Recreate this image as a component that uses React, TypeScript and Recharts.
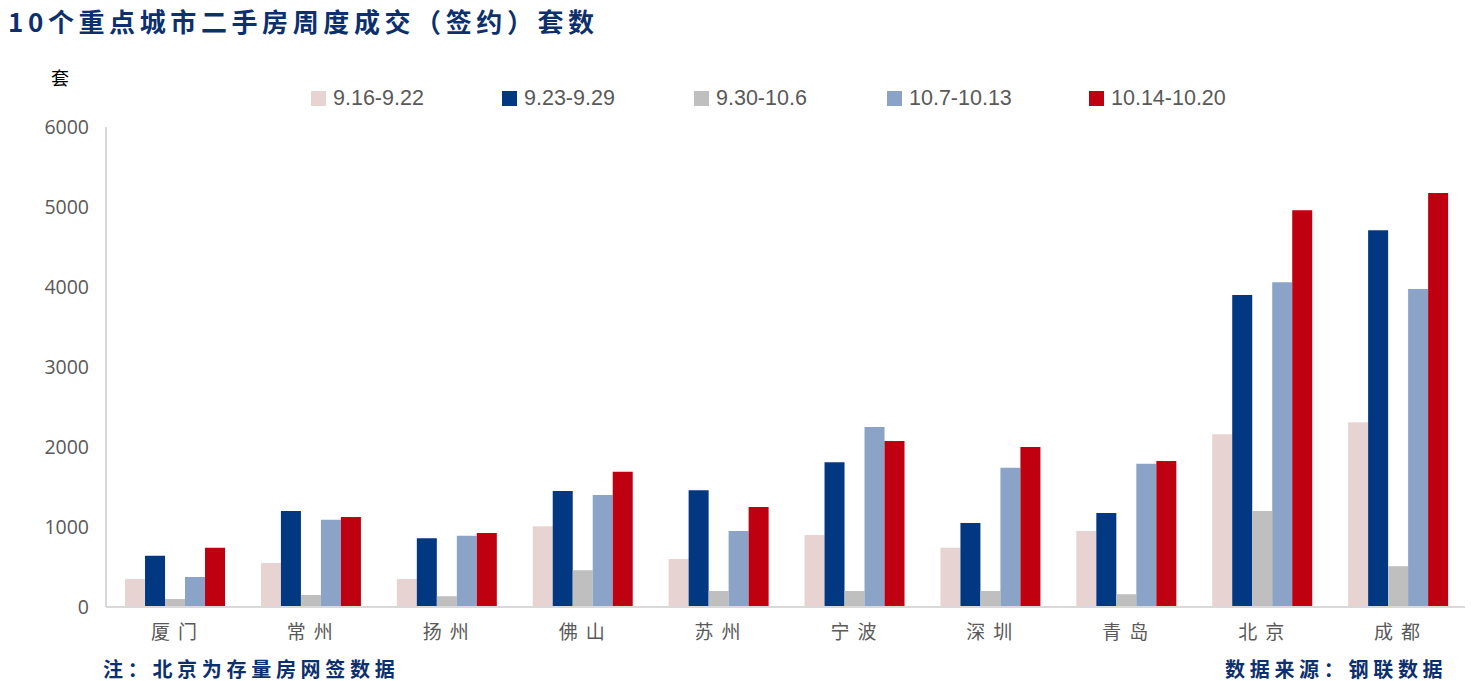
import { BarChart, Bar, XAxis, YAxis } from "recharts";

const cities = ["厦门", "常州", "扬州", "佛山", "苏州", "宁波", "深圳", "青岛", "北京", "成都"];
const weeks = ["9.16-9.22", "9.23-9.29", "9.30-10.6", "10.7-10.13", "10.14-10.20"];
const w1 = [350, 550, 350, 1010, 600, 900, 740, 950, 2160, 2310];
const w2 = [640, 1200, 860, 1450, 1460, 1810, 1050, 1175, 3900, 4710];
const w3 = [100, 150, 135, 460, 200, 200, 200, 160, 1200, 510];
const w4 = [375, 1090, 890, 1400, 950, 2250, 1740, 1790, 4060, 3975];
const w5 = [740, 1125, 925, 1690, 1250, 2075, 2000, 1825, 4960, 5175];
const yTicks = [0, 1000, 2000, 3000, 4000, 5000, 6000];
const COLORS = ["#e8d3d3", "#023882", "#bfbfbf", "#8aa3c7", "#bf0010"];

const rows = cities.map((c, i) => ({ city: c, w1: w1[i], w2: w2[i], w3: w3[i], w4: w4[i], w5: w5[i] }));
const keys = ["w1", "w2", "w3", "w4", "w5"];
const legendX = [311, 502, 694, 887, 1089];

const navy = "#0c2f6e";

function CityTick(props: any) {
  const { x, y, payload } = props;
  return (
    <text x={x + 4} y={y + 24} textAnchor="middle" fill="#595959" fontSize={19}
      fontFamily="'Noto Sans CJK SC', serif" letterSpacing={8}>
      {payload.value}
    </text>
  );
}

export default function App() {
  return (
    <div style={{ position: "absolute", left: 0, top: 0, width: 1474, height: 681, background: "#fff", fontFamily: "'Noto Sans CJK SC', sans-serif" }}>
      <div style={{ position: "absolute", left: 8, top: 2, fontSize: 26, fontWeight: 700, color: navy, letterSpacing: 4.6, whiteSpace: "nowrap" }}>
        10个重点城市二手房周度成交（签约）套数
      </div>
      <div style={{ position: "absolute", left: 51, top: 64, fontSize: 18, color: "#000" }}>套</div>
      {weeks.map((w, i) => (
        <div key={w} style={{ position: "absolute", left: legendX[i], top: 86, height: 24, display: "flex", alignItems: "center", whiteSpace: "nowrap" }}>
          <span style={{ width: 15, height: 15, background: COLORS[i], display: "inline-block", marginRight: 7 }} />
          <span style={{ fontFamily: "'Liberation Sans Narrow', 'Liberation Sans', sans-serif", fontSize: 21.5, color: "#595959" }}>{w}</span>
        </div>
      ))}
      <div style={{ position: "absolute", left: 0, top: 0 }}>
        <BarChart width={1474} height={681} data={rows} barCategoryGap="14%" barGap={0}
          margin={{ top: 127, right: 9, left: 0, bottom: 34 }}>
          <XAxis dataKey="city" height={40} tickLine={false} axisLine={{ stroke: "#d9d9d9", strokeWidth: 2 }} tick={<CityTick />} interval={0} />
          <YAxis width={106} domain={[0, 6000]} ticks={yTicks} tickLine={false} axisLine={{ stroke: "#d9d9d9", strokeWidth: 2 }}
            tick={{ fill: "#595959", fontSize: 19.5, fontFamily: "'Open Sans', sans-serif" }} tickMargin={11} />
          {keys.map((k, i) => (
            <Bar key={k} dataKey={k} name={weeks[i]} fill={COLORS[i]} isAnimationActive={false} />
          ))}
        </BarChart>
      </div>
      <div style={{ position: "absolute", left: 103, top: 654, fontSize: 20, fontWeight: 700, color: navy, letterSpacing: 4.7, whiteSpace: "nowrap" }}>
        注：北京为存量房网签数据
      </div>
      <div style={{ position: "absolute", left: 1225, top: 654, fontSize: 20, fontWeight: 700, color: navy, letterSpacing: 4.7, whiteSpace: "nowrap" }}>
        数据来源：钢联数据
      </div>
    </div>
  );
}
